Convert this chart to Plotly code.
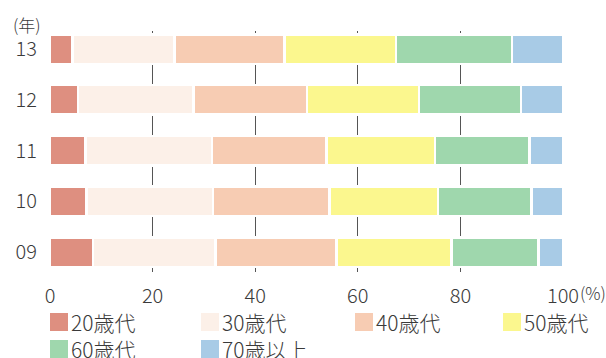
import plotly.graph_objects as go

# ---- data ----
years = ["09", "10", "11", "12", "13"]
age_groups = ["20歳代", "30歳代", "40歳代", "50歳代", "60歳代", "70歳以上"]
share_20s = [8.4, 7.1, 6.9, 5.5, 4.4]
share_30s = [23.9, 24.7, 24.7, 22.5, 19.9]
share_40s = [23.5, 22.7, 22.3, 22.1, 21.4]
share_50s = [22.5, 21.1, 21.1, 21.8, 21.7]
share_60s = [16.9, 18.3, 18.5, 19.9, 22.7]
share_70p = [4.8, 6.1, 6.5, 8.2, 9.9]
x_ticks = [0, 20, 40, 60, 80, 100]
x_ticktext = ["0", "20", "40", "60", "80", "100"]

series = [share_20s, share_30s, share_40s, share_50s, share_60s, share_70p]
colors = ["#de8f80", "#fcf0e8", "#f7ccb3", "#fbf78e", "#9fd7ad", "#a8cbe6"]

W, H = 606, 358
ML, MR, MT, MB = 50, 43, 31, 86
PW = W - ML - MR
PH = H - MT - MB
FONT = "Noto Sans CJK JP"
TXT = "#3a3a3a"


def xp(px):
    return (px - ML) / PW


def yp(py):
    return (H - MB - py) / PH


fig = go.Figure()
for name, vals, col in zip(age_groups, series, colors):
    fig.add_trace(go.Bar(
        x=vals, y=years, orientation="h", name=name,
        marker=dict(color=col, line=dict(color="white", width=2.5)),
        width=0.58, showlegend=False,
    ))

# custom legend (swatch + label)
leg_cols = [50, 201, 355, 503]
leg_rows = [322, 349]
for i, (name, col) in enumerate(zip(age_groups, colors)):
    cx = leg_cols[i % 4]
    cy = leg_rows[i // 4]
    fig.add_shape(type="rect", xref="paper", yref="paper",
                  x0=xp(cx), x1=xp(cx + 18), y0=yp(cy - 9), y1=yp(cy + 9),
                  fillcolor=col, line=dict(width=0))
    fig.add_annotation(text=name, xref="paper", yref="paper",
                       x=xp(cx + 19), y=yp(cy), xanchor="left", yanchor="middle",
                       showarrow=False,
                       font=dict(family=FONT, size=21, color=TXT, weight=300))

fig.add_annotation(text="(年)", xref="paper", yref="paper",
                   x=xp(11), y=yp(24), xanchor="left", yanchor="middle",
                   showarrow=False,
                   font=dict(family=FONT, size=17, color=TXT, weight=300))
fig.add_annotation(text="(%)", xref="x", yref="paper",
                   x=100, xshift=15, y=yp(292), xanchor="left", yanchor="middle",
                   showarrow=False,
                   font=dict(family=FONT, size=17, color=TXT, weight=300))

fig.update_layout(
    barmode="stack", width=W, height=H,
    margin=dict(l=ML, r=MR, t=MT, b=MB),
    paper_bgcolor="white", plot_bgcolor="white",
    font=dict(family=FONT, color=TXT, weight=300),
    xaxis=dict(range=[0, 100], tickvals=x_ticks, ticktext=x_ticktext,
               showgrid=False, zeroline=False, showline=False, ticks="",
               tickfont=dict(size=20, color=TXT, weight=300), ticklabelstandoff=10,
               minor=dict(tickvals=[20, 40, 60, 80], showgrid=True,
                          gridcolor="#555555", gridwidth=1)),
    yaxis=dict(type="category", categoryorder="array", categoryarray=years,
               range=[-0.39, 4.355], showgrid=False, zeroline=False,
               showline=False, ticks="", tickfont=dict(size=20, color=TXT, weight=300),
               ticklabelstandoff=12),
)

fig.write_html("out.html")
